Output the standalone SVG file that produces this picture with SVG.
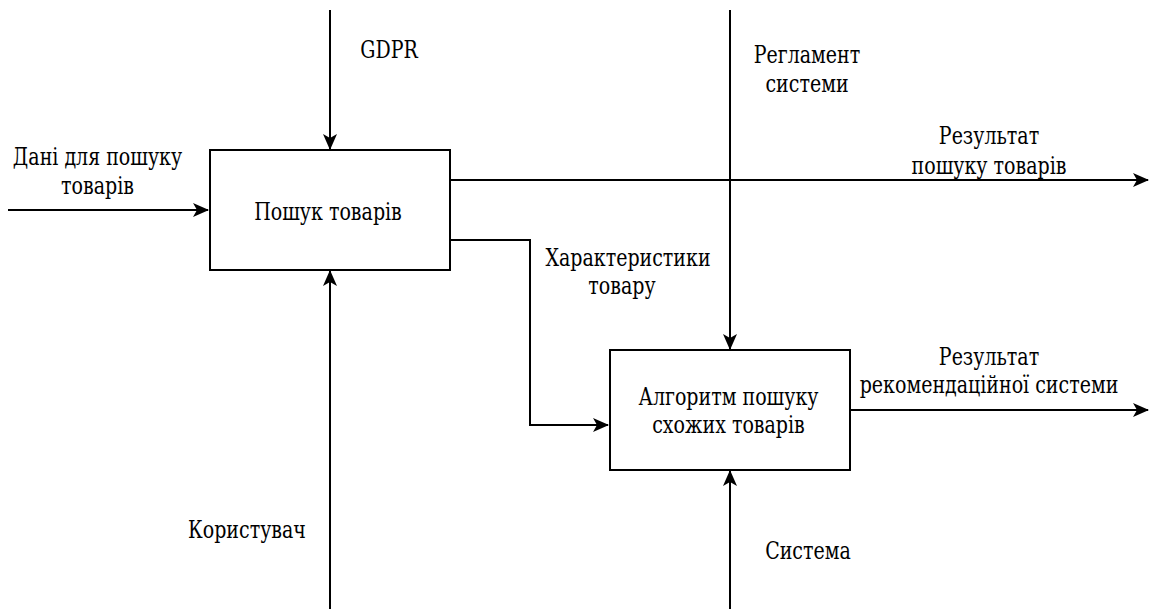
<svg xmlns="http://www.w3.org/2000/svg" width="1154" height="609" viewBox="0 0 1154 609">
<style>
.box{fill:#fff;stroke:#000;stroke-width:2}
.ln{fill:none;stroke:#000;stroke-width:2;marker-end:url(#ah)}
.t{font-family:'DejaVu Serif',serif;font-size:19px;fill:#000;text-anchor:middle}
</style>
<defs>
<marker id="ah" markerUnits="userSpaceOnUse" viewBox="0 0 16 14" refX="15" refY="7" markerWidth="16" markerHeight="14" orient="auto">
<path d="M0,0 L16,7 L0,14 L4,7 Z" fill="#000"/>
</marker>
</defs>
<rect width="1154" height="609" fill="#fff"/>
<g id="connectors">
<path class="ln" d="M330,10 L330,149"/>
<path class="ln" d="M8,210 L208,210"/>
<path class="ln" d="M330,609 L330,271"/>
<path class="ln" d="M450,180 L1148,180"/>
<path class="ln" d="M450,240 L530,240 L530,425 L608,425"/>
<path class="ln" d="M730,10 L730,349"/>
<path class="ln" d="M730,609 L730,471"/>
<path class="ln" d="M850,410 L1148,410"/>
</g>
<g id="labels">
<text class="t" transform="translate(389,58) scale(1,1.28)">GDPR</text>
<text class="t" transform="translate(97.5,165) scale(1,1.28)">Дані для пошуку</text>
<text class="t" transform="translate(97.5,194) scale(1,1.28)">товарів</text>
<text class="t" transform="translate(807,63) scale(1,1.28)">Регламент</text>
<text class="t" transform="translate(807,92) scale(1,1.28)">системи</text>
<text class="t" transform="translate(989,144) scale(1,1.28)">Результат</text>
<text class="t" transform="translate(989,174) scale(1,1.28)">пошуку товарів</text>
<text class="t" transform="translate(628,266) scale(1,1.28)">Характеристики</text>
<text class="t" transform="translate(622,294) scale(1,1.28)">товару</text>
<text class="t" transform="translate(989,365) scale(1,1.28)">Результат</text>
<text class="t" transform="translate(989,393) scale(1,1.28)">рекомендаційної системи</text>
<text class="t" transform="translate(247,538) scale(1,1.28)">Користувач</text>
<text class="t" transform="translate(808,559) scale(1,1.28)">Система</text>
</g>
<g id="node1">
<rect class="box" x="210" y="150" width="240" height="120"/>
<text class="t" transform="translate(328,220) scale(1,1.28)">Пошук товарів</text>
</g>
<g id="node2">
<rect class="box" x="610" y="350" width="240" height="120"/>
<text class="t" transform="translate(728.5,405) scale(1,1.28)">Алгоритм пошуку</text>
<text class="t" transform="translate(728.5,433) scale(1,1.28)">схожих товарів</text>
</g>
</svg>
